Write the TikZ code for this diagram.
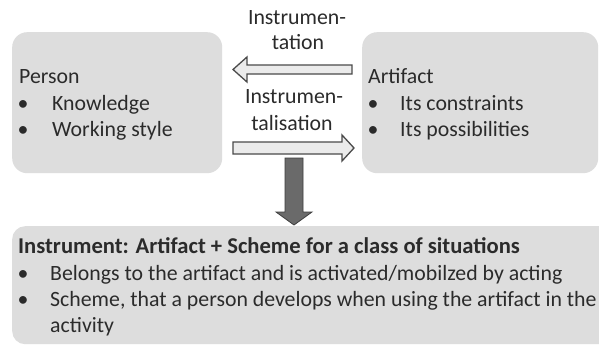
\documentclass[tikz,border=0pt]{standalone}
\usepackage{fontspec}
\setmainfont{Carlito}
\definecolor{boxfill}{HTML}{DDDDDD}
\definecolor{txt}{HTML}{2B2B2B}
\definecolor{arrfill}{HTML}{EBEBEB}
\definecolor{arrdraw}{HTML}{4A4A4A}
\definecolor{downfill}{HTML}{6A6A6A}
\definecolor{downdraw}{HTML}{3E3E3E}
\begin{document}
\begin{tikzpicture}[x=1pt,y=-1pt,
  box/.style={fill=boxfill,draw=none,rounded corners=15pt,anchor=north west,inner sep=0pt},
  lbl/.style={anchor=base west,inner sep=0pt,text=txt,font=\fontsize{21.8}{26}\selectfont},
  ctr/.style={anchor=base,inner sep=0pt,text=txt,font=\fontsize{21.8}{26}\selectfont},
  bul/.style={anchor=base,inner sep=0pt,text=txt,font=\fontsize{21.8}{26}\selectfont},
  hollow/.style={fill=arrfill,draw=arrdraw,line width=1.3pt,line join=miter},
  solidarrow/.style={fill=downfill,draw=downdraw,line width=0.8pt}]
\useasboundingbox (0,0) rectangle (599,345);
\fill[white] (0,0) rectangle (599,345);
% boxes
\node[box,minimum width=210pt,minimum height=141pt] (person) at (12,32) {};
\node[box,minimum width=236pt,minimum height=141pt] (artifact) at (362,32) {};
\node[box,rounded corners=13pt,minimum width=600pt,minimum height=118pt] (instrument) at (12,226) {};
% person text
\node[lbl] (ptitle) at (19,83) {Person};
\node[bul] (pb1) at (23,110) {•};
\node[lbl] (pk) at (52,110) {Knowledge};
\node[bul] (pb2) at (23,136) {•};
\node[lbl] (pw) at (52,136) {Working style};
% artifact text
\node[lbl] (atitle) at (368,83) {Artifact};
\node[bul] (ab1) at (373,110) {•};
\node[lbl] (ac) at (400,110) {Its constraints};
\node[bul] (ab2) at (373,136) {•};
\node[lbl] (ap) at (400,136) {Its possibilities};
% arrow labels
\node[ctr] (i1a) at (297,25) {Instrumen-};
\node[ctr] (i1b) at (298,50) {tation};
\node[ctr] (i2a) at (294,103) {Instrumen-};
\node[ctr] (i2b) at (292,130) {talisation};
% hollow arrows
\draw[hollow] (352,65) -- (247,65) -- (247,57) -- (233,69.5) -- (247,82) -- (247,74) -- (352,74) -- cycle;
\draw[hollow] (233,142) -- (342,142) -- (342,135) -- (354,148) -- (342,161) -- (342,154) -- (233,154) -- cycle;
% down arrow
\draw[solidarrow] (285,158) -- (303,158) -- (303,212) -- (312,212) -- (294,225) -- (276,212) -- (285,212) -- cycle;
% instrument text
\node[lbl,font=\fontsize{22.6}{26}\selectfont\bfseries] (ititle) at (18,253) {Instrument: Artifact + Scheme for a class of situations};
\node[bul] (ib1) at (23,280) {•};
\node[lbl] (il1) at (50,280) {Belongs to the artifact and is activated/mobilzed by acting};
\node[bul] (ib2) at (23,306) {•};
\node[lbl] (il2) at (50,306) {Scheme, that a person develops when using the artifact in the};
\node[lbl] (il3) at (50,332) {activity};
\end{tikzpicture}
\end{document}
